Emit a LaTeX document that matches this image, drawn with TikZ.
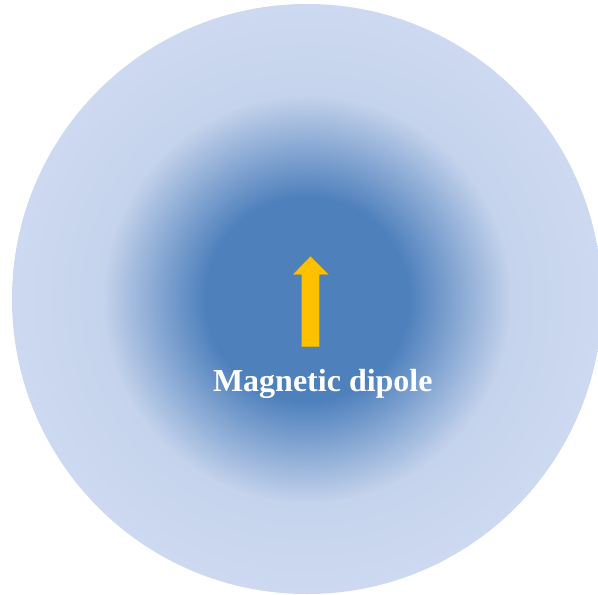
\documentclass[tikz,border=0pt]{standalone}
\usepackage{fontspec}
\setmainfont{Liberation Serif}
\definecolor{coreblue}{HTML}{4E80BC}
\definecolor{haloblue}{HTML}{C5D3EC}
\definecolor{rimblue}{HTML}{CDD9F0}
\definecolor{dipoleyellow}{HTML}{FFC000}
\pgfdeclareradialshading{fieldshade}{\pgfpoint{0bp}{0bp}}{%
  color(0bp)=(coreblue); color(8.6bp)=(coreblue); color(17.3bp)=(haloblue); color(25bp)=(rimblue); color(50bp)=(rimblue)}
\tikzset{
  fieldcircle/.style={circle, inner sep=0pt, minimum size=590bp, shading=fieldshade, draw=none},
  dipolearrow/.style={fill=dipoleyellow, draw=dipoleyellow!92!black, line width=0.3bp},
  dipolelabel/.style={text=white, font=\bfseries\fontsize{32bp}{38bp}\selectfont, inner sep=0pt, anchor=base}
}
\begin{document}
\begin{tikzpicture}[x=1bp, y=-1bp]
  \useasboundingbox (0,0) rectangle (598,595);
  \clip (0,0) rectangle (598,595);
  \node[fieldcircle] (field) at (307,299) {};
  \coordinate (tip) at (310.5,256.7);
  \draw[dipolearrow] (tip) -- (328.3,274.3) -- (319.2,274.3) -- (319.2,346.7)
     -- (301.8,346.7) -- (301.8,274.3) -- (293.3,274.3) -- cycle;
  \node[dipolelabel] (label) at (322.8,391.7) {Magnetic dipole};
\end{tikzpicture}
\end{document}
